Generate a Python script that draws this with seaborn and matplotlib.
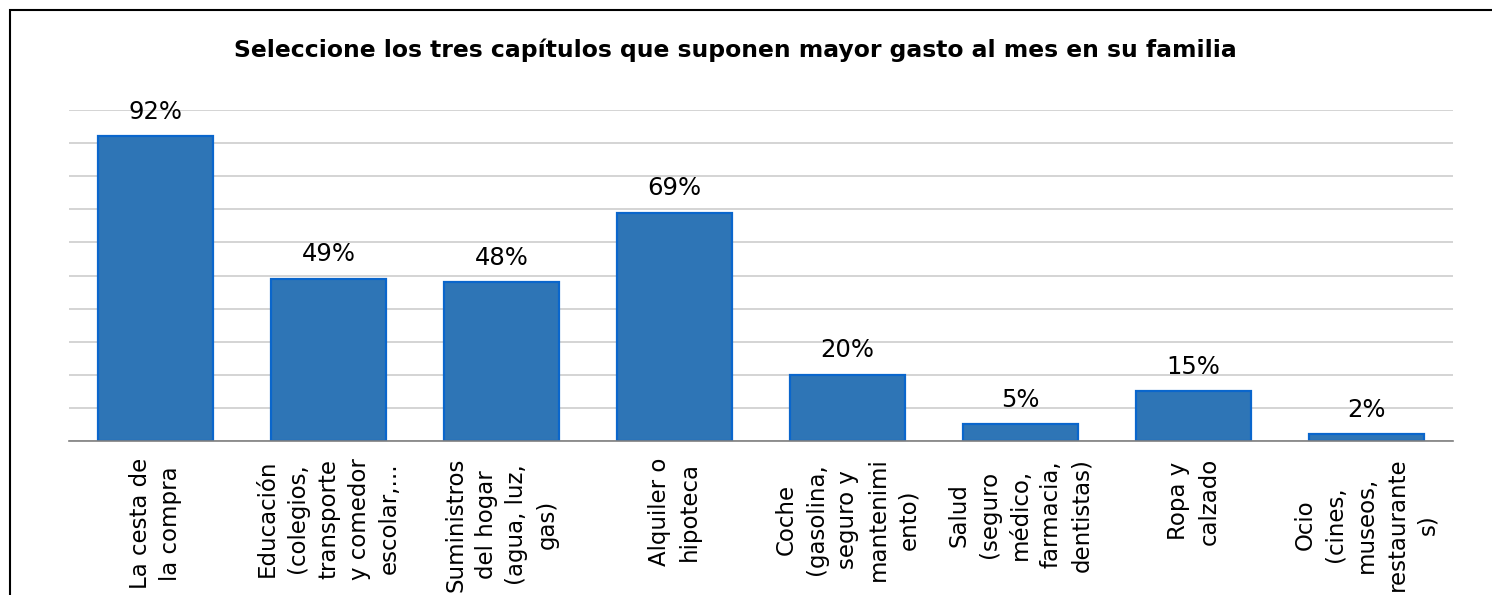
import seaborn as sns
from matplotlib import pyplot as plt
from matplotlib.patches import Rectangle
import numpy as np

categories = [
    "La cesta de\nla compra",
    "Educación\n(colegios,\ntransporte\ny comedor\nescolar,...",
    "Suministros\ndel hogar\n(agua, luz,\ngas)",
    "Alquiler o\nhipoteca",
    "Coche\n(gasolina,\nseguro y\nmantenimi\nento)",
    "Salud\n(seguro\nmédico,\nfarmacia,\ndentistas)",
    "Ropa y\ncalzado",
    "Ocio\n(cines,\nmuseos,\nrestaurante\ns)",
]
values = [0.92, 0.49, 0.48, 0.69, 0.20, 0.05, 0.15, 0.02]
title = "Seleccione los tres capítulos que suponen mayor gasto al mes en su familia"

sns.set_style("white")
plt.rcParams['font.family'] = ['DejaVu Sans']
plt.rcParams['text.color'] = 'black'
plt.rcParams['xtick.color'] = 'black'

fig = plt.figure(figsize=(14.92, 5.95), dpi=100)
W, H = 1492, 595
ax = fig.add_axes([69 / W, 154 / H, (1453 - 69) / W, (441 - 110) / H])

x = np.arange(len(categories))
sns.barplot(x=x, y=values, ax=ax, color="#2E75B6", saturation=1,
            width=0.67, edgecolor="#0A66CC", linewidth=1.6)

ax.set_ylim(0, 1)
ax.set_xlim(-0.5, len(categories) - 0.5)
ax.set_yticks(np.arange(0, 1.01, 0.1))
ax.set_yticklabels([])
ax.tick_params(axis="y", length=0)
ax.yaxis.grid(True, color="#CDCDCD", linewidth=1.2)
ax.set_axisbelow(True)
for s in ["left", "right", "top"]:
    ax.spines[s].set_visible(False)
ax.spines["bottom"].set_color("#7F7F7F")
ax.spines["bottom"].set_linewidth(1.2)

ax.set_xticks(x)
ax.set_xticklabels(categories, rotation=90, va="top", ha="center",
                   multialignment="center", fontsize=16.5, linespacing=1.42,
                   color="black")
ax.tick_params(axis="x", length=0, pad=12)
ax.set_xticks(np.arange(-0.5, len(categories), 1), minor=True)
ax.tick_params(axis="x", which="minor", length=8, width=1.2, color="#7F7F7F")

ax.bar_label(ax.containers[0], labels=[f"{v:.0%}" for v in values],
             padding=9, fontsize=17.5, color="black")

fig.text(735 / W, 1 - 50 / H, title, ha="center", va="center",
         fontsize=16.9, fontweight="bold", color="black")

fig.patches.append(Rectangle((10 / W, -0.1), 1.2, 1 - 10 / H + 0.1,
                             transform=fig.transFigure, fill=False,
                             edgecolor="black", linewidth=1.5))

fig.savefig("out.png", dpi=100)
